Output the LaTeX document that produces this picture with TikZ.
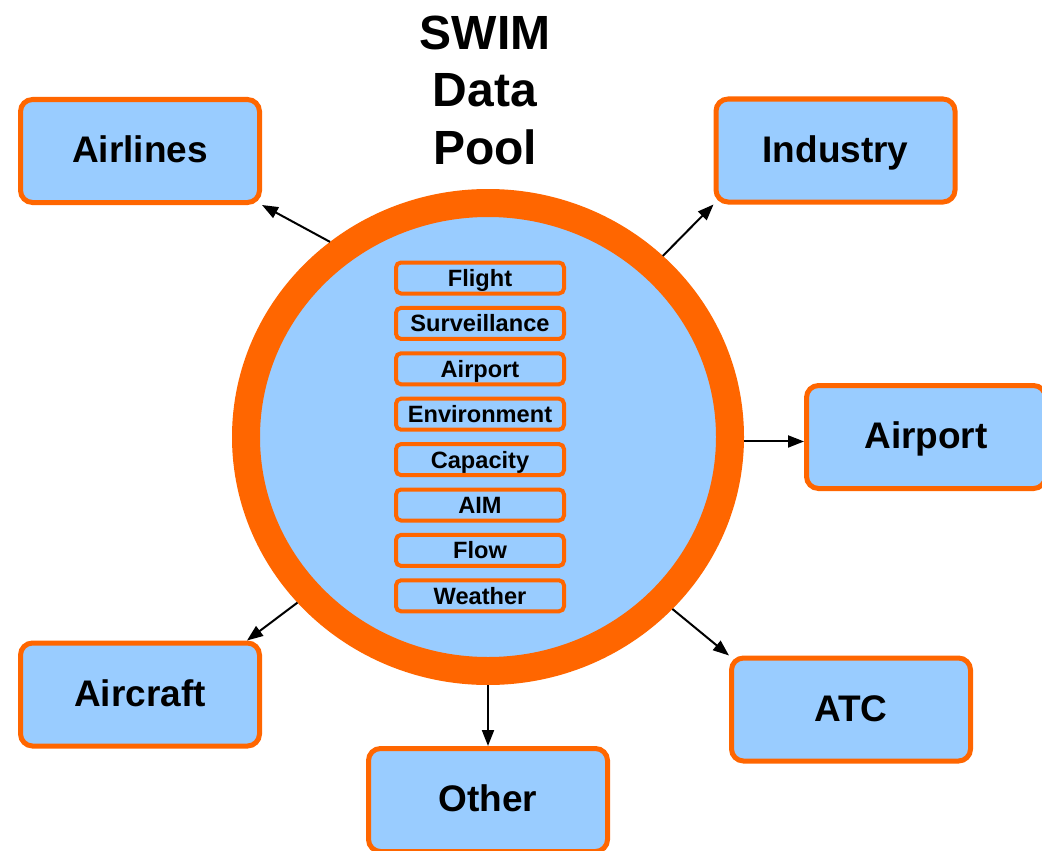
\documentclass[tikz,border=0pt]{standalone}
\usepackage{fontspec}
\setmainfont{Liberation Sans}
\usetikzlibrary{arrows.meta,shapes.geometric}
\definecolor{poolblue}{HTML}{99CCFF}
\definecolor{poolorange}{HTML}{FF6600}
\tikzset{
  bigbox/.style={draw=poolorange, fill=poolblue, line width=5pt, rounded corners=12pt,
    minimum width=239pt, minimum height=103pt, inner sep=0pt,
    text height=25.9pt, text depth=2.4pt,
    font=\bfseries\fontsize{37}{44}\selectfont},
  smallbox/.style={draw=poolorange, fill=poolblue, line width=4pt, rounded corners=5pt,
    minimum width=168pt, minimum height=31pt, inner sep=0pt,
    text height=17.7pt, text depth=0.8pt,
    font=\bfseries\fontsize{23.6}{28}\selectfont},
  link/.style={line width=2pt, -{Triangle[length=16pt,width=12pt]}}
}
\begin{document}
\begin{tikzpicture}[x=1pt,y=-1pt]
\clip (0,0) rectangle (1042,851);
\fill[white] (0,0) rectangle (1042,851);
\node[align=center, inner sep=0pt, font=\bfseries\fontsize{48}{57.5}\selectfont] (title) at (485,90) {SWIM\\Data\\Pool};
\node[ellipse, draw=poolorange, fill=poolblue, line width=28pt, minimum width=484pt, minimum height=468pt, inner sep=0pt, outer sep=14pt] (pool) at (488,437) {};
\node[smallbox] (s1) at (480,278.0) {Flight};
\node[smallbox] (s2) at (480,323.4) {Surveillance};
\node[smallbox] (s3) at (480,368.8) {Airport};
\node[smallbox] (s4) at (480,414.2) {Environment};
\node[smallbox] (s5) at (480,459.6) {Capacity};
\node[smallbox] (s6) at (480,505.0) {AIM};
\node[smallbox] (s7) at (480,550.4) {Flow};
\node[smallbox] (s8) at (480,595.8) {Weather};
\node[bigbox] (airlines) at (140,151) {Airlines};
\node[bigbox] (industry) at (835.5,150.5) {Industry};
\node[bigbox] (airport) at (926,437) {Airport};
\node[bigbox] (aircraft) at (140,694.5) {Aircraft};
\node[bigbox] (atc) at (851,709.5) {ATC};
\node[bigbox] (other) at (488,800) {Other};
\coordinate (aircraftin) at ([xshift=-15pt]aircraft.north east);
\draw[link] (pool.129.3) -- (airlines.south east);
\draw[link] (pool.46.6) -- (industry.south west);
\draw[link] (pool.-1.3) -- (pool.-1.3 -| airport.west);
\draw[link] (pool.-43.9) -- (atc.north west);
\draw[link] (pool.-90) -- (other.north);
\draw[link] (pool.221) -- (aircraftin);
\end{tikzpicture}
\end{document}
